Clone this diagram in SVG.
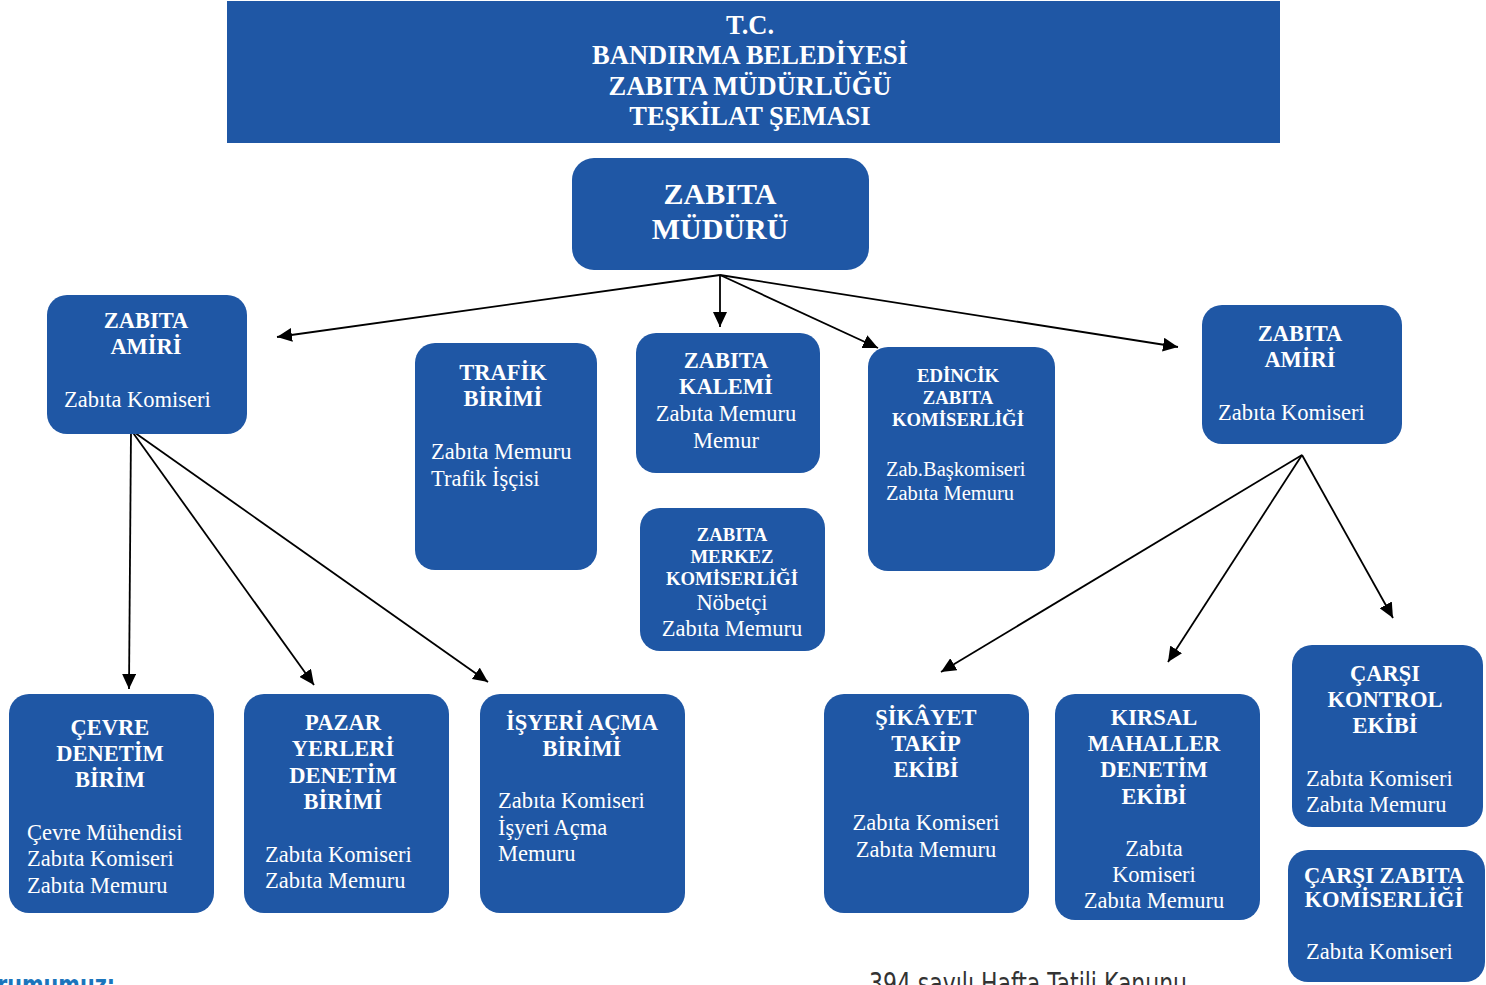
<svg xmlns="http://www.w3.org/2000/svg" width="1486" height="985" viewBox="0 0 1486 985">
<style>
.box{fill:#1f57a5;}
.h{font-family:"Liberation Serif","Times New Roman",serif;font-weight:bold;fill:#fff;text-anchor:middle;}
.b{font-family:"Liberation Serif","Times New Roman",serif;font-weight:bold;fill:#fff;font-size:22.5px;text-anchor:middle;}
.bs{font-family:"Liberation Serif","Times New Roman",serif;font-weight:bold;fill:#fff;font-size:18.7px;text-anchor:middle;}
.r{font-family:"Liberation Serif","Times New Roman",serif;fill:#fff;font-size:22.5px;}
.rc{font-family:"Liberation Serif","Times New Roman",serif;fill:#fff;font-size:22.5px;text-anchor:middle;}
.rs{font-family:"Liberation Serif","Times New Roman",serif;fill:#fff;font-size:20.5px;}
.ln{stroke:#000;stroke-width:1.8;fill:none;marker-end:url(#ah);}
</style>
<defs>
<marker id="ah" markerUnits="userSpaceOnUse" markerWidth="16" markerHeight="14" refX="15" refY="7" orient="auto">
<path d="M0,0 L15,7 L0,14 Z" fill="#000"/>
</marker>
</defs>
<rect width="1486" height="985" fill="#fff"/>

<g id="header">
<rect x="227" y="1" width="1053" height="142" fill="#1f57a5"/>
<text class="h" font-size="26.5" x="750" y="34">T.C.</text>
<text class="h" font-size="26.5" x="750" y="64">BANDIRMA BELEDİYESİ</text>
<text class="h" font-size="26.5" x="750" y="95">ZABITA MÜDÜRLÜĞÜ</text>
<text class="h" font-size="26.5" x="750" y="125">TEŞKİLAT ŞEMASI</text>
</g>

<g id="connectors">
<line class="ln" x1="720" y1="275" x2="277" y2="337"/>
<line class="ln" x1="720" y1="275" x2="720" y2="327"/>
<line class="ln" x1="720" y1="275" x2="878" y2="348"/>
<line class="ln" x1="720" y1="275" x2="1178" y2="347"/>
<line class="ln" x1="131" y1="430" x2="129" y2="689"/>
<line class="ln" x1="131" y1="430" x2="314" y2="685"/>
<line class="ln" x1="131" y1="430" x2="488" y2="682"/>
<line class="ln" x1="1302" y1="455" x2="941" y2="672"/>
<line class="ln" x1="1302" y1="455" x2="1168" y2="662"/>
<line class="ln" x1="1302" y1="455" x2="1393" y2="618"/>
</g>

<g id="mudur">
<rect class="box" x="572" y="158" width="297" height="112" rx="22"/>
<text class="h" font-size="30" x="720" y="204">ZABITA</text>
<text class="h" font-size="30" x="720" y="239">MÜDÜRÜ</text>
</g>

<g id="amir-left">
<rect class="box" x="47" y="295" width="200" height="139" rx="20"/>
<text class="b" x="146" y="328">ZABITA</text>
<text class="b" x="146" y="354">AMİRİ</text>
<text class="r" x="64" y="407">Zabıta Komiseri</text>
</g>

<g id="trafik">
<rect class="box" x="415" y="343" width="182" height="227" rx="20"/>
<text class="b" x="503" y="380">TRAFİK</text>
<text class="b" x="503" y="406">BİRİMİ</text>
<text class="r" x="431" y="459">Zabıta Memuru</text>
<text class="r" x="431" y="486">Trafik İşçisi</text>
</g>

<g id="kalem">
<rect class="box" x="636" y="333" width="184" height="140" rx="20"/>
<text class="b" x="726" y="368">ZABITA</text>
<text class="b" x="726" y="394">KALEMİ</text>
<text class="rc" x="726" y="421">Zabıta Memuru</text>
<text class="rc" x="726" y="448">Memur</text>
</g>

<g id="merkez">
<rect class="box" x="640" y="508" width="185" height="143" rx="20"/>
<text class="bs" x="732" y="541">ZABITA</text>
<text class="bs" x="732" y="563">MERKEZ</text>
<text class="bs" x="732" y="585">KOMİSERLİĞİ</text>
<text class="rc" x="732" y="610">Nöbetçi</text>
<text class="rc" x="732" y="636">Zabıta Memuru</text>
</g>

<g id="edincik">
<rect class="box" x="868" y="347" width="187" height="224" rx="20"/>
<text class="bs" x="958" y="382">EDİNCİK</text>
<text class="bs" x="958" y="404">ZABITA</text>
<text class="bs" x="958" y="426">KOMİSERLİĞİ</text>
<text class="rs" x="886" y="476">Zab.Başkomiseri</text>
<text class="rs" x="886" y="500">Zabıta Memuru</text>
</g>

<g id="amir-right">
<rect class="box" x="1202" y="305" width="200" height="139" rx="20"/>
<text class="b" x="1300" y="341">ZABITA</text>
<text class="b" x="1300" y="367">AMİRİ</text>
<text class="r" x="1218" y="420">Zabıta Komiseri</text>
</g>

<g id="cevre">
<rect class="box" x="9" y="694" width="205" height="219" rx="20"/>
<text class="b" x="110" y="735">ÇEVRE</text>
<text class="b" x="110" y="761">DENETİM</text>
<text class="b" x="110" y="787">BİRİM</text>
<text class="r" x="27" y="840">Çevre Mühendisi</text>
<text class="r" x="27" y="866">Zabıta Komiseri</text>
<text class="r" x="27" y="893">Zabıta Memuru</text>
</g>

<g id="pazar">
<rect class="box" x="244" y="694" width="205" height="219" rx="20"/>
<text class="b" x="343" y="730">PAZAR</text>
<text class="b" x="343" y="756">YERLERİ</text>
<text class="b" x="343" y="783">DENETİM</text>
<text class="b" x="343" y="809">BİRİMİ</text>
<text class="r" x="265" y="862">Zabıta Komiseri</text>
<text class="r" x="265" y="888">Zabıta Memuru</text>
</g>

<g id="isyeri">
<rect class="box" x="480" y="694" width="205" height="219" rx="20"/>
<text class="b" x="582" y="730">İŞYERİ AÇMA</text>
<text class="b" x="582" y="756">BİRİMİ</text>
<text class="r" x="498" y="808">Zabıta Komiseri</text>
<text class="r" x="498" y="835">İşyeri Açma</text>
<text class="r" x="498" y="861">Memuru</text>
</g>

<g id="sikayet">
<rect class="box" x="824" y="694" width="205" height="219" rx="20"/>
<text class="b" x="926" y="725">ŞİKÂYET</text>
<text class="b" x="926" y="751">TAKİP</text>
<text class="b" x="926" y="777">EKİBİ</text>
<text class="rc" x="926" y="830">Zabıta Komiseri</text>
<text class="rc" x="926" y="857">Zabıta Memuru</text>
</g>

<g id="kirsal">
<rect class="box" x="1055" y="694" width="205" height="226" rx="20"/>
<text class="b" x="1154" y="725">KIRSAL</text>
<text class="b" x="1154" y="751">MAHALLER</text>
<text class="b" x="1154" y="777">DENETİM</text>
<text class="b" x="1154" y="804">EKİBİ</text>
<text class="rc" x="1154" y="856">Zabıta</text>
<text class="rc" x="1154" y="882">Komiseri</text>
<text class="rc" x="1154" y="908">Zabıta Memuru</text>
</g>

<g id="carsi-kontrol">
<rect class="box" x="1292" y="645" width="191" height="182" rx="20"/>
<text class="b" x="1385" y="681">ÇARŞI</text>
<text class="b" x="1385" y="707">KONTROL</text>
<text class="b" x="1385" y="733">EKİBİ</text>
<text class="r" x="1306" y="786">Zabıta Komiseri</text>
<text class="r" x="1306" y="812">Zabıta Memuru</text>
</g>

<g id="carsi-komiserlik">
<rect class="box" x="1288" y="850" width="197" height="132" rx="20"/>
<text class="b" x="1384" y="883">ÇARŞI ZABITA</text>
<text class="b" x="1384" y="907">KOMİSERLİĞİ</text>
<text class="r" x="1306" y="959">Zabıta Komiseri</text>
</g>

<g id="page-fragments">
<text x="-3" y="994" font-family="'DejaVu Sans Condensed','DejaVu Sans',sans-serif" font-weight="bold" font-size="26" fill="#1b75bc" textLength="118" lengthAdjust="spacingAndGlyphs">rumumuz:</text>
<text x="869" y="994" font-family="'DejaVu Sans Condensed','DejaVu Sans',sans-serif" font-size="30" fill="#333" textLength="318" lengthAdjust="spacingAndGlyphs">394 sayılı Hafta Tatili Kanunu</text>
</g>
</svg>
